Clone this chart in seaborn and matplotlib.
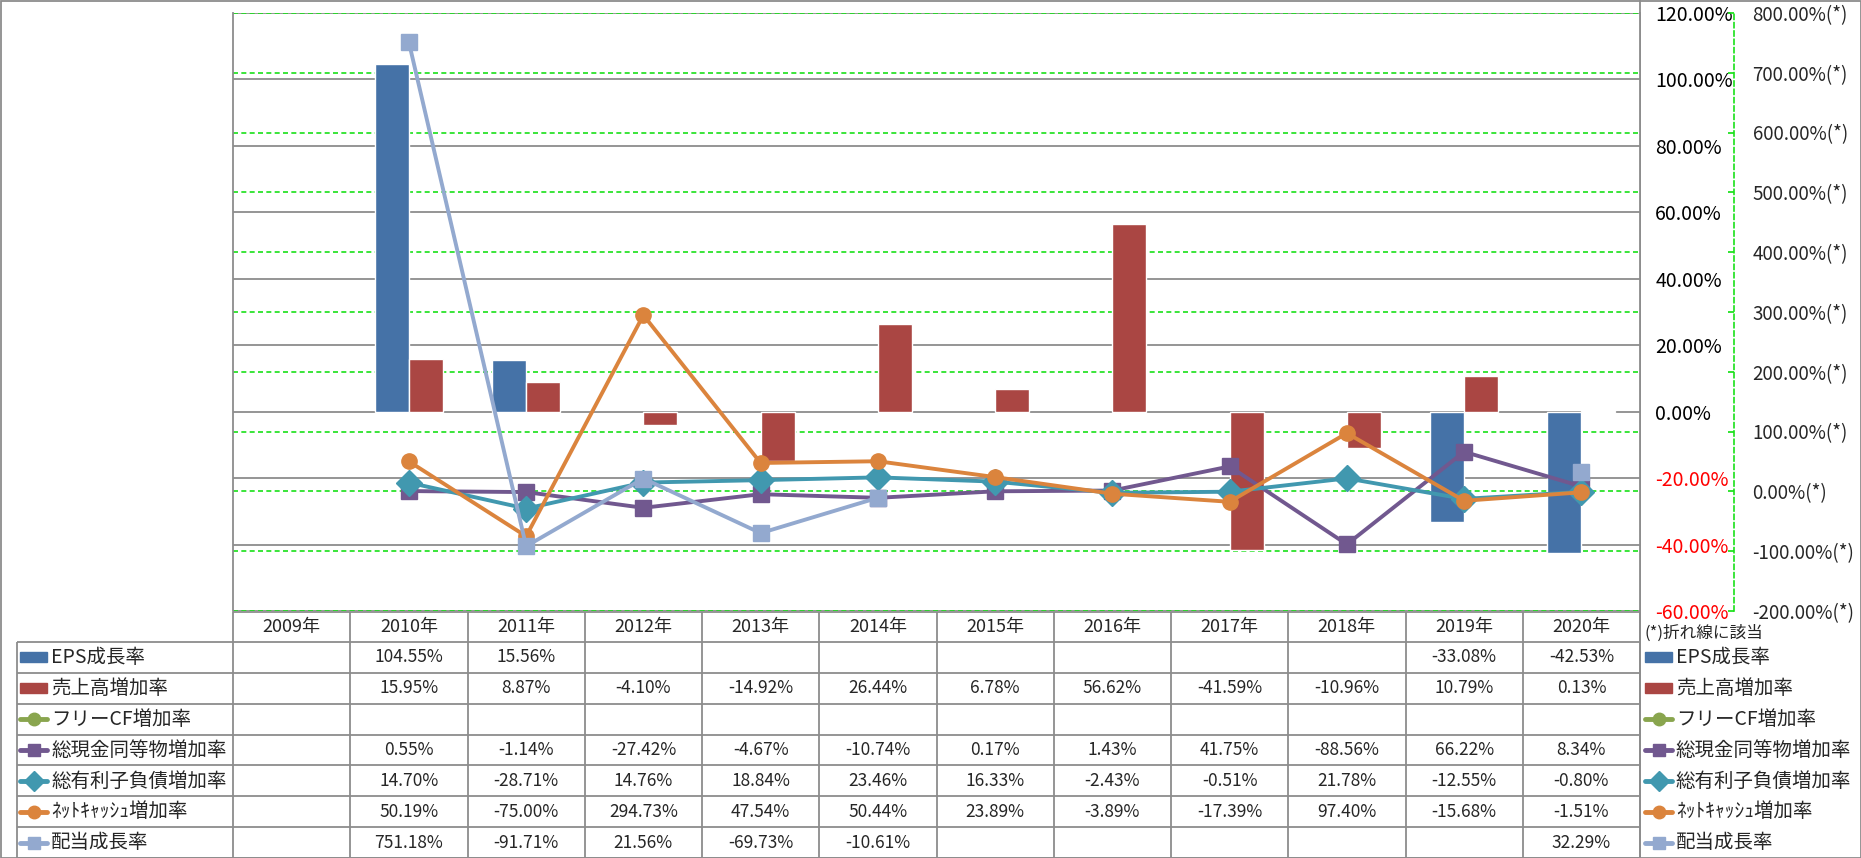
import numpy as np
import pandas as pd
import matplotlib.pyplot as plt
import matplotlib.transforms as mtransforms
from matplotlib.lines import Line2D
from matplotlib.patches import Rectangle
import seaborn as sns

nan = np.nan

# データ
years = ['2009年', '2010年', '2011年', '2012年', '2013年', '2014年',
         '2015年', '2016年', '2017年', '2018年', '2019年', '2020年']
eps_growth = [nan, 104.55, 15.56, nan, nan, nan, nan, nan, nan, nan, -33.08, -42.53]
sales_growth = [nan, 15.95, 8.87, -4.10, -14.92, 26.44, 6.78, 56.62, -41.59, -10.96, 10.79, 0.13]
fcf_growth = [nan] * 12
cash_growth = [nan, 0.55, -1.14, -27.42, -4.67, -10.74, 0.17, 1.43, 41.75, -88.56, 66.22, 8.34]
debt_growth = [nan, 14.70, -28.71, 14.76, 18.84, 23.46, 16.33, -2.43, -0.51, 21.78, -12.55, -0.80]
netcash_growth = [nan, 50.19, -75.00, 294.73, 47.54, 50.44, 23.89, -3.89, -17.39, 97.40, -15.68, -1.51]
dividend_growth = [nan, 751.18, -91.71, 21.56, -69.73, -10.61, nan, nan, nan, nan, nan, 32.29]

series_names = ['EPS成長率', '売上高増加率', 'フリーCF増加率', '総現金同等物増加率',
                '総有利子負債増加率', 'ﾈｯﾄｷｬｯｼｭ増加率', '配当成長率']
series_values = [eps_growth, sales_growth, fcf_growth, cash_growth,
                 debt_growth, netcash_growth, dividend_growth]
colors = ['#4572A7', '#AA4643', '#89A54E', '#71588F', '#4198AF', '#DB843D', '#93A9CF']
markers = [None, None, 'o', 's', 'D', 'o', 's']

primary_ticks = [-60, -40, -20, 0, 20, 40, 60, 80, 100, 120]
secondary_ticks = [-200, -100, 0, 100, 200, 300, 400, 500, 600, 700, 800]

sns.set_theme(style='white')
plt.rcParams['font.family'] = ['Noto Sans CJK JP', 'DejaVu Sans']

GRAY = '#8C8C8C'
GREEN = '#19E019'

W, H = 1861, 858
fig = plt.figure(figsize=(W / 100, H / 100), dpi=100)
L, R, T, B = 233, 1640, 13, 611
ax = fig.add_axes([L / W, 1 - B / H, (R - L) / W, (B - T) / H])
ax2 = ax.twinx()

# 棒グラフ (主軸)
bar_df = pd.DataFrame({
    'year': years * 2,
    'series': [series_names[0]] * len(years) + [series_names[1]] * len(years),
    'value': eps_growth + sales_growth,
})
sns.barplot(data=bar_df, x='year', y='value', hue='series', order=years,
            hue_order=series_names[:2], palette=colors[:2], width=0.58,
            saturation=1, errorbar=None, legend=False, ax=ax, zorder=3)

ax.set_xlim(-0.5, len(years) - 0.5)
ax.set_ylim(-60, 120)
ax2.set_ylim(-200, 800)

# 目盛線
ax.set_yticks(primary_ticks)
ax.yaxis.grid(True, color=GRAY, lw=1.3)
ax.set_axisbelow(True)
blend = mtransforms.blended_transform_factory(ax.transAxes, ax2.transData)
ax.hlines(secondary_ticks, 0, 1, transform=blend, colors=GREEN,
          linestyles=(0, (3, 2)), lw=1.2, zorder=1)

# 折れ線グラフ (第2軸)
xpos = np.arange(len(years))
for name, vals, c, m in zip(series_names[2:], series_values[2:], colors[2:], markers[2:]):
    ms = 13 if m == 'D' else 11
    ax2.plot(xpos, vals, color=c, lw=2.8, marker=m, ms=ms, zorder=3)

# 主軸ラベル
ax.yaxis.tick_right()
ax.set_yticklabels([f'{v:.2f}%' for v in primary_ticks])
ax.tick_params(axis='y', length=0, pad=11, labelsize=14)
for lab, v in zip(ax.get_yticklabels(), primary_ticks):
    lab.set_color('red' if v < 0 else 'black')
ax.tick_params(axis='x', bottom=False, labelbottom=False)
ax.set_xlabel('')
ax.set_ylabel('')
for s in ['top', 'bottom']:
    ax.spines[s].set_visible(False)
for s in ['left', 'right']:
    ax.spines[s].set_color(GRAY)
    ax.spines[s].set_linewidth(1.3)

# 第2軸ラベル
ax2.set_yticks(secondary_ticks)
ax2.set_yticklabels([f'{v:.2f}%(*)' for v in secondary_ticks])
ax2.tick_params(axis='y', direction='in', length=4, color=GREEN, pad=13, labelsize=13.5)
for lab, v in zip(ax2.get_yticklabels(), secondary_ticks):
    lab.set_color('red' if v < 0 else 'black')
for s in ['top', 'bottom', 'left']:
    ax2.spines[s].set_visible(False)
ax2.spines['right'].set_position(('outward', 68))
ax2.spines['right'].set_color(GREEN)
ax2.spines['right'].set_linestyle((0, (3, 2)))
ax2.spines['right'].set_linewidth(1.2)
ax2.set_ylabel('')

# データテーブル
tab = fig.add_axes([0, 0, 1, 1], zorder=-1)
tab.set_xlim(0, W)
tab.set_ylim(H, 0)
tab.axis('off')
tab.add_patch(Rectangle((0.5, 0.5), W - 1, H - 1, fill=False, ec=GRAY, lw=1.3))

col_edges = np.linspace(L, R, len(years) + 1)
head_top, head_bot = 612, 642
row_h = (H - head_bot) / len(series_names)
row_left = 17

tab.hlines(head_top, L, R, color=GRAY, lw=1.3)
for k in range(len(series_names) + 1):
    tab.hlines(head_bot + k * row_h, row_left, R, color=GRAY, lw=1.3)
tab.vlines(col_edges, head_top, H, color=GRAY, lw=1.3)
tab.vlines(row_left, head_bot, H, color=GRAY, lw=1.3)
tab.vlines(R, 0, H, color=GRAY, lw=1.3)

col_centers = (col_edges[:-1] + col_edges[1:]) / 2
for cx, yr in zip(col_centers, years):
    tab.text(cx, (head_top + head_bot) / 2, yr, ha='center', va='center', fontsize=13)

for i, (name, vals, c, m) in enumerate(zip(series_names, series_values, colors, markers)):
    cy = head_bot + (i + 0.5) * row_h
    for cx, v in zip(col_centers, vals):
        if not np.isnan(v):
            tab.text(cx, cy, f'{v:.2f}%', ha='center', va='center', fontsize=12.5)
    # 行ラベルと凡例
    for x0 in [row_left + 3, R + 5]:
        if m is None:
            tab.add_patch(Rectangle((x0, cy - 5), 27, 10, color=c))
        else:
            tab.add_line(Line2D([x0, x0 + 27], [cy, cy], color=c, lw=3.5))
            tab.add_line(Line2D([x0 + 13.5], [cy], color=c, marker=m,
                                ms=10 if m == 'D' else 9))
        tab.text(x0 + 31, cy, name, ha='left', va='center', fontsize=14)

tab.text(R + 5, (head_top + head_bot) / 2 + 6, '(*)折れ線に該当', ha='left',
         va='center', fontsize=12)

fig.savefig('out.png', dpi=100)
